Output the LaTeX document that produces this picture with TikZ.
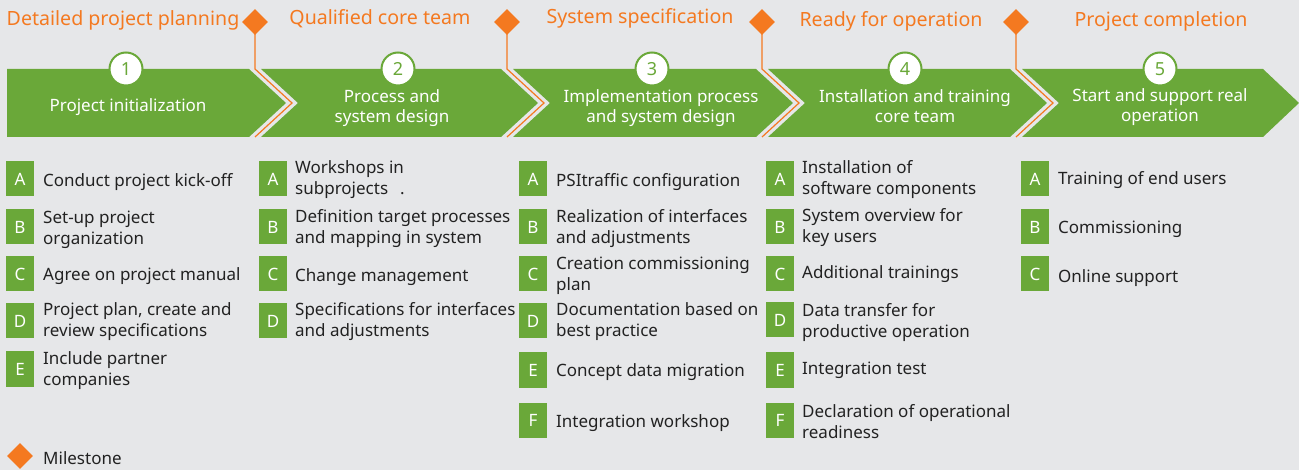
\documentclass[tikz,border=0pt]{standalone}
\usepackage{fontspec}
\setmainfont{Noto Sans}
\usetikzlibrary{shapes.geometric}
\definecolor{bgc}{HTML}{E6E7E9}
\definecolor{pgreen}{HTML}{6AA839}
\definecolor{porange}{HTML}{F47920}
\definecolor{ptext}{HTML}{222222}
\tikzset{
  chev/.style={fill=pgreen},
  chevtext/.style={text=white, align=center, inner sep=0pt, yshift=-2pt, font=\fontsize{17}{20.5}\selectfont},
  numcirc/.style={circle, fill=white, draw=pgreen, line width=2pt, minimum size=33pt, inner sep=0pt, text=pgreen, font=\fontsize{18}{20}\selectfont},
  mstone/.style={diamond, fill=porange, minimum width=26pt, minimum height=26pt, inner sep=0pt},
  mslabel/.style={text=porange, inner sep=0pt, yshift=-2pt, font=\fontsize{19.6}{22}\selectfont},
  msline/.style={draw=porange, line width=1.2pt},
  letterbox/.style={fill=pgreen, minimum width=28pt, minimum height=35pt, inner sep=0pt, text=white, font=\fontsize{17}{20}\selectfont},
  itemtext/.style={anchor=west, align=left, inner sep=0pt, yshift=-1.5pt, text=ptext, font=\fontsize{17}{21}\selectfont},
}
\begin{document}
\begin{tikzpicture}[x=1pt,y=-1pt]
\fill[bgc] (0,0) rectangle (1299,470);
\useasboundingbox (0,0) rectangle (1299,470);

% chevrons
\fill[chev] (7,69) -- (249,69) -- (286,103) -- (249,137) -- (7,137) -- cycle;
\fill[chev] (261,69) -- (501,69) -- (538,103) -- (501,137) -- (261,137) -- (298,103) -- cycle;
\fill[chev] (513,69) -- (756,69) -- (793,103) -- (756,137) -- (513,137) -- (550,103) -- cycle;
\fill[chev] (768,69) -- (1010,69) -- (1047,103) -- (1010,137) -- (768,137) -- (805,103) -- cycle;
\fill[chev] (1022,69) -- (1263,69) -- (1299,103) -- (1263,137) -- (1022,137) -- (1059,103) -- cycle;

% milestones
\node[mstone] (m1) at (255,22) {};
\node[mstone] (m2) at (507,22) {};
\node[mstone] (m3) at (762,22) {};
\node[mstone] (m4) at (1016,22) {};
\draw[msline] (m1.center) -- (255,69) -- (292,103) -- (255,137);
\draw[msline] (m2.center) -- (507,69) -- (544,103) -- (507,137);
\draw[msline] (m3.center) -- (762,69) -- (799,103) -- (762,137);
\draw[msline] (m4.center) -- (1016,69) -- (1053,103) -- (1016,137);

\node[mslabel] (l1) at (123,18) {Detailed project planning};
\node[mslabel] (l2) at (380,17) {Qualified core team};
\node[mslabel] (l3) at (640,16) {System specification};
\node[mslabel] (l4) at (891,19) {Ready for operation};
\node[mslabel] (l5) at (1161,19) {Project completion};

% circles
\node[numcirc] (c1) at (126,69) {1};
\node[numcirc] (c2) at (398,69) {2};
\node[numcirc] (c3) at (652,69) {3};
\node[numcirc] (c4) at (905,69) {4};
\node[numcirc] (c5) at (1160,69) {5};

% chevron labels
\node[chevtext] (p1) at (128,105) {Project initialization};
\node[chevtext] (p2) at (392,106) {Process and\\system design};
\node[chevtext] (p3) at (661,106) {Implementation process\\and system design};
\node[chevtext] (p4) at (915,104) {Installation and training\\core team};
\node[chevtext] (p5) at (1160,105) {Start and support real\\operation};

% column 1
\node[letterbox] (a1) at (20,179) {A};
\node[itemtext] (ta1) at (43,181) {Conduct project kick-off};
\node[letterbox] (b1) at (20,227) {B};
\node[itemtext] (tb1) at (43,228) {Set-up project\\organization};
\node[letterbox] (cc1) at (20,274) {C};
\node[itemtext] (tc1) at (43,275) {Agree on project manual};
\node[letterbox] (d1) at (20,321) {D};
\node[itemtext] (td1) at (43,320) {Project plan, create and\\review specifications};
\node[letterbox] (e1) at (20,369) {E};
\node[itemtext] (te1) at (43,369) {Include partner\\companies};

% column 2
\node[letterbox] (a2) at (273,179) {A};
\node[itemtext] (ta2) at (295,178) {Workshops in\\subprojects\hspace{12pt}.};
\node[letterbox] (b2) at (273,227) {B};
\node[itemtext] (tb2) at (295,227) {Definition target processes\\and mapping in system};
\node[letterbox] (cc2) at (273,274) {C};
\node[itemtext] (tc2) at (295,276) {Change management};
\node[letterbox] (d2) at (273,321) {D};
\node[itemtext] (td2) at (295,320) {Specifications for interfaces\\and adjustments};

% column 3
\node[letterbox] (a3) at (533,179) {A};
\node[itemtext] (ta3) at (556,181) {PSItraffic configuration};
\node[letterbox] (b3) at (533,227) {B};
\node[itemtext] (tb3) at (556,227) {Realization of interfaces\\and adjustments};
\node[letterbox] (cc3) at (533,274) {C};
\node[itemtext] (tc3) at (556,274) {Creation commissioning\\plan};
\node[letterbox] (d3) at (533,321) {D};
\node[itemtext] (td3) at (556,320) {Documentation based on\\best practice};
\node[letterbox] (e3) at (533,370) {E};
\node[itemtext] (te3) at (556,371) {Concept data migration};
\node[letterbox] (f3) at (533,420) {F};
\node[itemtext] (tf3) at (556,422) {Integration workshop};

% column 4
\node[letterbox] (a4) at (780,179) {A};
\node[itemtext] (ta4) at (802,178) {Installation of\\software components};
\node[letterbox] (b4) at (780,227) {B};
\node[itemtext] (tb4) at (802,226) {System overview for\\key users};
\node[letterbox] (cc4) at (780,274) {C};
\node[itemtext] (tc4) at (802,273) {Additional trainings};
\node[letterbox] (d4) at (780,320) {D};
\node[itemtext] (td4) at (802,321) {Data transfer for\\productive operation};
\node[letterbox] (e4) at (780,370) {E};
\node[itemtext] (te4) at (802,369) {Integration test};
\node[letterbox] (f4) at (780,420) {F};
\node[itemtext] (tf4) at (802,420) {Declaration of operational\\readiness};

% column 5
\node[letterbox] (a5) at (1035,179) {A};
\node[itemtext] (ta5) at (1058,179) {Training of end users};
\node[letterbox] (b5) at (1035,227) {B};
\node[itemtext] (tb5) at (1058,228) {Commissioning};
\node[letterbox] (cc5) at (1035,274) {C};
\node[itemtext] (tc5) at (1058,277) {Online support};

% legend
\node[mstone] (leg) at (20,456) {};
\node[itemtext] (legt) at (43,457) {Milestone};
\end{tikzpicture}
\end{document}
